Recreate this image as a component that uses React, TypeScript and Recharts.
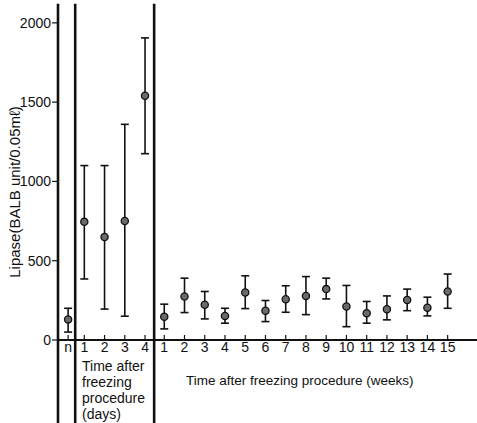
import { ScatterChart, Scatter, XAxis, YAxis, ErrorBar, ReferenceLine } from 'recharts';

// control group
const normalLabels = ['n'];
const normalMean = [130];
const normalLow = [50];
const normalHigh = [200];

// days after freezing
const dayLabels = ['1', '2', '3', '4'];
const dayMean = [745, 650, 750, 1540];
const dayLow = [385, 195, 150, 1175];
const dayHigh = [1100, 1100, 1360, 1905];

// weeks after freezing
const weekLabels = ['1', '2', '3', '4', '5', '6', '7', '8', '9', '10', '11', '12', '13', '14', '15'];
const weekMean = [147, 274, 222, 152, 300, 184, 257, 278, 321, 211, 169, 194, 253, 204, 306];
const weekLow = [70, 173, 133, 106, 198, 116, 175, 160, 259, 84, 106, 127, 185, 152, 200];
const weekHigh = [226, 390, 306, 200, 405, 249, 342, 400, 390, 344, 243, 278, 321, 270, 416];

const yTicks = [0, 500, 1000, 1500, 2000];

// slot positions on the x axis (layout only)
const normalX = (i: number) => 0.5 + i;
const dayX = (i: number) => 1.3 + i;
const weekX = (i: number) => 5.25 + i;
const dividers = [0, 0.85, 4.75];

const points = [
  ...normalLabels.map((_, i) => ({ x: normalX(i), y: normalMean[i], low: normalLow[i], high: normalHigh[i] })),
  ...dayLabels.map((_, i) => ({ x: dayX(i), y: dayMean[i], low: dayLow[i], high: dayHigh[i] })),
  ...weekLabels.map((_, i) => ({ x: weekX(i), y: weekMean[i], low: weekLow[i], high: weekHigh[i] })),
].map((d) => ({ ...d, err: [d.y - d.low, d.high - d.y] }));

const xTicks = [...normalLabels.map((_, i) => normalX(i)), ...dayLabels.map((_, i) => dayX(i)), ...weekLabels.map((_, i) => weekX(i))];
const xTickLabels = [...normalLabels, ...dayLabels, ...weekLabels];

const ink = '#111';
const font = '"Liberation Sans", Arial, sans-serif';

const Dot = (props: any) => (
  <circle cx={props.cx} cy={props.cy} r={3.6} fill="#6a6a6a" stroke={ink} strokeWidth={1.3} />
);

export default function App() {
  return (
    <div style={{ position: 'absolute', left: 0, top: 0, width: 477, height: 423, background: '#fff' }}>
      <ScatterChart width={477} height={423} margin={{ top: 7, right: 0, left: 0, bottom: 63 }}>
        <XAxis
          type="number"
          dataKey="x"
          domain={[0, 20.7]}
          ticks={xTicks}
          interval={0}
          tickFormatter={(_v: number, i: number) => xTickLabels[i]}
          height={20}
          tickSize={-5}
          tickMargin={7}
          axisLine={{ stroke: ink, strokeWidth: 2 }}
          tickLine={{ stroke: ink, strokeWidth: 1.2 }}
          tick={{ fill: ink, fontSize: 14, fontFamily: font }}
        />
        <YAxis
          type="number"
          dataKey="y"
          domain={[0, 2100]}
          ticks={yTicks}
          allowDataOverflow
          width={58}
          axisLine={false}
          tickSize={6}
          tickMargin={1}
          tickLine={{ stroke: ink, strokeWidth: 1.2 }}
          tick={{ fill: ink, fontSize: 14, fontFamily: font }}
        />
        {dividers.map((d) => (
          <ReferenceLine
            key={d}
            segment={[{ x: d, y: -530 }, { x: d, y: 2120 }]}
            ifOverflow="visible"
            stroke={ink}
            strokeWidth={2.6}
          />
        ))}
        <Scatter data={points} shape={Dot} isAnimationActive={false}>
          <ErrorBar dataKey="err" direction="y" width={4} stroke={ink} strokeWidth={1.6} />
        </Scatter>
      </ScatterChart>
      <svg width={477} height={423} style={{ position: 'absolute', left: 0, top: 0, pointerEvents: 'none' }}>
        <text
          transform="translate(20,192) rotate(-90)"
          textAnchor="middle"
          fontSize={15}
          fontFamily={font}
          fill={ink}
        >
          Lipase(BALB unit/0.05mℓ)
        </text>
        <g fontSize={14} fontFamily={font} fill={ink}>
          <text x={82} y={371}>Time after</text>
          <text x={82} y={387}>freezing</text>
          <text x={82} y={403}>procedure</text>
          <text x={82} y={419}>(days)</text>
        </g>
        <text x={186} y={385} fontSize={13.5} fontFamily={font} fill={ink}>
          Time after freezing procedure (weeks)
        </text>
      </svg>
    </div>
  );
}
